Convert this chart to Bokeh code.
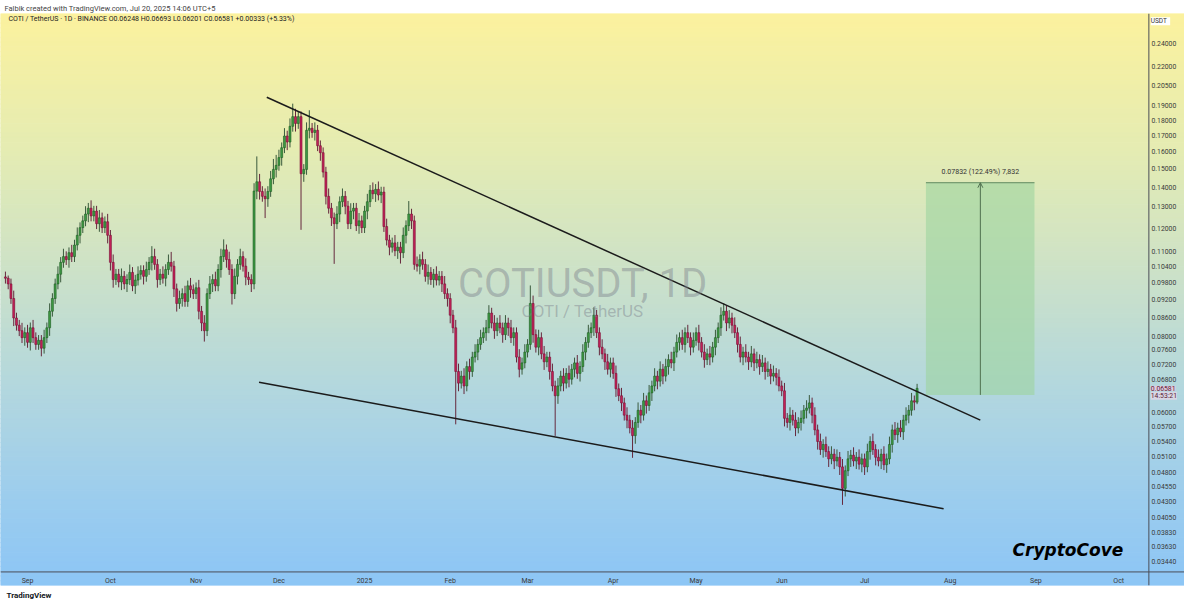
import numpy as np
import pandas as pd
from bokeh.plotting import figure
from bokeh.models import (Range1d, FixedTicker, CustomJSTickFormatter, Span, Label,
                          Title, Arrow, OpenHead, ColumnDataSource)
from bokeh.embed import file_html
from bokeh.resources import INLINE

# ---------------- data (COTI/USDT daily) ----------------
first_date = "2024-08-24"
first_open = 0.1000

close_aug = [0.0995, 0.0974, 0.0922, 0.0857, 0.0834, 0.0817, 0.0796, 0.0811]
close_sep = [0.0782, 0.0826, 0.0796, 0.0776, 0.0788, 0.0765, 0.0796, 0.0826, 0.0879, 0.0922,
             0.0974, 0.1010, 0.1056, 0.1079, 0.1067, 0.1095, 0.1079, 0.1127, 0.1169, 0.1203,
             0.1234, 0.1266, 0.1294, 0.1257, 0.1280, 0.1221, 0.1248, 0.1203, 0.1230, 0.1169]
close_oct = [0.1056, 0.0990, 0.1010, 0.0981, 0.1002, 0.0974, 0.0990, 0.1017, 0.0967, 0.0988,
             0.1010, 0.1024, 0.1002, 0.1028, 0.1056, 0.1079, 0.1048, 0.0990, 0.1010, 0.0995,
             0.1028, 0.1056, 0.1041, 0.0956, 0.0905, 0.0922, 0.0939, 0.0912, 0.0967, 0.0953,
             0.0939]
close_nov = [0.0960, 0.0879, 0.0841, 0.0817, 0.0939, 0.0974, 0.0990, 0.0967, 0.1028, 0.1079,
             0.1107, 0.1067, 0.1028, 0.0939, 0.1002, 0.1048, 0.1079, 0.1041, 0.0999, 0.0990,
             0.0974, 0.1380, 0.1429, 0.1378, 0.1353, 0.1341, 0.1378, 0.1445, 0.1497, 0.1520]
close_dec = [0.1565, 0.1624, 0.1697, 0.1659, 0.1760, 0.1825, 0.1779, 0.1825, 0.1473, 0.1497,
             0.1734, 0.1747, 0.1720, 0.1734, 0.1636, 0.1594, 0.1482, 0.1353, 0.1294, 0.1248,
             0.1221, 0.1266, 0.1326, 0.1353, 0.1304, 0.1221, 0.1280, 0.1294, 0.1212, 0.1234,
             0.1203]
close_jan = [0.1280, 0.1326, 0.1384, 0.1366, 0.1389, 0.1360, 0.1375, 0.1208, 0.1148, 0.1118,
             0.1136, 0.1103, 0.1118, 0.1095, 0.1169, 0.1212, 0.1266, 0.1234, 0.1048, 0.1041,
             0.1067, 0.1048, 0.1002, 0.1017, 0.0990, 0.1010, 0.0988, 0.1002, 0.0974, 0.0939,
             0.0922]
close_feb = [0.0866, 0.0826, 0.0701, 0.0671, 0.0689, 0.0664, 0.0714, 0.0701, 0.0740, 0.0754,
             0.0776, 0.0796, 0.0811, 0.0826, 0.0873, 0.0841, 0.0817, 0.0841, 0.0826, 0.0805,
             0.0841, 0.0826, 0.0796, 0.0811, 0.0740, 0.0707, 0.0724, 0.0754]
close_mar = [0.0776, 0.0905, 0.0805, 0.0768, 0.0796, 0.0749, 0.0727, 0.0740, 0.0701, 0.0664,
             0.0640, 0.0664, 0.0689, 0.0671, 0.0696, 0.0681, 0.0707, 0.0724, 0.0696, 0.0714,
             0.0754, 0.0782, 0.0811, 0.0826, 0.0866, 0.0811, 0.0768, 0.0749, 0.0727, 0.0707,
             0.0724]
close_apr = [0.0696, 0.0657, 0.0640, 0.0623, 0.0595, 0.0584, 0.0567, 0.0551, 0.0579, 0.0606,
             0.0595, 0.0628, 0.0617, 0.0647, 0.0664, 0.0689, 0.0676, 0.0707, 0.0689, 0.0714,
             0.0733, 0.0724, 0.0754, 0.0782, 0.0796, 0.0776, 0.0811, 0.0796, 0.0768, 0.0788]
close_may = [0.0811, 0.0782, 0.0754, 0.0733, 0.0749, 0.0740, 0.0768, 0.0796, 0.0826, 0.0866,
             0.0879, 0.0841, 0.0857, 0.0834, 0.0811, 0.0776, 0.0740, 0.0754, 0.0740, 0.0727,
             0.0749, 0.0724, 0.0733, 0.0714, 0.0724, 0.0701, 0.0707, 0.0689, 0.0696, 0.0686,
             0.0664]
close_jun = [0.0652, 0.0588, 0.0579, 0.0595, 0.0584, 0.0567, 0.0579, 0.0588, 0.0606, 0.0611,
             0.0623, 0.0595, 0.0563, 0.0539, 0.0523, 0.0533, 0.0519, 0.0505, 0.0514, 0.0501,
             0.0508, 0.0490, 0.0452, 0.0483, 0.0505, 0.0512, 0.0501, 0.0508, 0.0495, 0.0505]
close_jul = [0.0490, 0.0519, 0.0539, 0.0523, 0.0508, 0.0501, 0.0514, 0.0494, 0.0505, 0.0533,
             0.0563, 0.0553, 0.0567, 0.0559, 0.0584, 0.0595, 0.0606, 0.0628, 0.06248, 0.06581]

# upper / lower wick sizes, percent beyond the candle body
wick_up_aug = [2, 1, 2, 3, 2, 2, 3, 2]
wick_up_sep = [3, 2, 3, 2, 2, 2, 3, 2, 3, 2, 2, 3, 2, 3, 2, 2, 3, 2, 3, 2,
               2, 3, 2, 3, 2, 2, 3, 2, 2, 3]
wick_up_oct = [2, 3, 2, 2, 3, 2, 2, 3, 2, 2, 3, 2, 2, 3, 2, 4, 3, 2, 2, 3,
               2, 3, 4, 2, 2, 3, 2, 3, 2, 3, 2]
wick_up_nov = [2, 3, 2, 3, 2, 3, 2, 3, 2, 3, 4, 2, 3, 2, 3, 2, 3, 2, 3, 2,
               2, 3, 10, 3, 2, 3, 2, 3, 4, 4]
wick_up_dec = [3, 2, 3, 2, 3, 5, 3, 2, 2, 2, 3, 7, 2, 3, 2, 2, 2, 2, 3, 2,
               2, 3, 2, 3, 2, 2, 3, 2, 2, 3, 2]
wick_up_jan = [2, 3, 2, 3, 2, 3, 2, 2, 3, 2, 2, 3, 2, 2, 3, 2, 5, 2, 2, 3,
               2, 3, 2, 3, 2, 2, 3, 2, 2, 3, 2]
wick_up_feb = [2, 2, 3, 3, 2, 3, 2, 3, 2, 3, 2, 3, 2, 3, 3, 2, 3, 2, 3, 2,
               3, 2, 3, 2, 2, 3, 2, 3]
wick_up_mar = [2, 7, 3, 2, 3, 2, 3, 2, 2, 3, 2, 3, 2, 3, 2, 3, 2, 2, 3, 2,
               3, 2, 3, 2, 3, 2, 2, 3, 2, 3, 2]
wick_up_apr = [2, 3, 2, 3, 2, 3, 2, 3, 2, 3, 2, 3, 2, 3, 2, 3, 2, 3, 2, 3,
               2, 3, 2, 3, 2, 3, 2, 3, 2, 3]
wick_up_may = [2, 3, 2, 3, 2, 3, 2, 3, 2, 3, 3, 2, 3, 2, 3, 2, 3, 2, 3, 2,
               3, 2, 3, 2, 3, 2, 3, 2, 3, 2, 3]
wick_up_jun = [2, 3, 2, 3, 2, 3, 2, 3, 2, 3, 3, 2, 3, 2, 3, 2, 3, 2, 3, 2,
               3, 2, 3, 2, 3, 2, 3, 2, 3, 2]
wick_up_jul = [2, 3, 2, 3, 2, 3, 2, 3, 2, 3, 2, 3, 2, 3, 2, 3, 2, 3, 2, 1.7]

wick_dn_aug = [2, 2, 2, 3, 2, 2, 2, 3]
wick_dn_sep = [2, 3, 2, 2, 2, 3, 2, 2, 3, 2, 2, 2, 3, 2, 2, 3, 2, 2, 2, 3,
               2, 2, 3, 2, 2, 2, 3, 2, 2, 3]
wick_dn_oct = [3, 3, 2, 2, 3, 2, 3, 2, 2, 3, 2, 2, 3, 2, 2, 3, 2, 3, 2, 2,
               3, 2, 2, 3, 3, 2, 3, 2, 2, 3, 2]
wick_dn_nov = [2, 3, 3, 4, 2, 2, 3, 2, 2, 3, 2, 3, 2, 4, 2, 3, 2, 2, 3, 2,
               3, 2, 3, 3, 2, 7, 3, 2, 2, 3]
wick_dn_dec = [2, 3, 2, 3, 2, 2, 3, 2, 19, 3, 2, 3, 2, 3, 2, 3, 2, 3, 2, 3,
               14, 2, 3, 2, 3, 2, 2, 3, 2, 3, 2]
wick_dn_jan = [2, 3, 2, 2, 3, 2, 3, 2, 2, 3, 2, 2, 3, 4, 2, 3, 2, 3, 2, 2,
               3, 2, 2, 3, 2, 3, 2, 2, 3, 2, 3]
wick_dn_feb = [3, 2, 18, 3, 2, 3, 2, 3, 2, 2, 3, 2, 2, 3, 2, 2, 3, 2, 2, 3,
               2, 3, 2, 3, 2, 3, 2, 2]
wick_dn_mar = [2, 2, 3, 2, 3, 2, 3, 2, 3, 2, 14, 3, 2, 3, 2, 3, 2, 3, 2, 3,
               2, 3, 2, 2, 3, 2, 3, 2, 3, 2, 3]
wick_dn_apr = [2, 3, 2, 3, 2, 3, 2, 8, 3, 2, 3, 2, 3, 2, 3, 2, 3, 2, 3, 2,
               3, 2, 3, 2, 3, 2, 3, 2, 3, 2]
wick_dn_may = [2, 3, 2, 3, 2, 3, 2, 3, 2, 3, 2, 3, 2, 3, 2, 3, 2, 3, 2, 3,
               2, 3, 2, 3, 2, 3, 2, 3, 2, 3, 2]
wick_dn_jun = [2, 3, 2, 3, 2, 3, 2, 3, 2, 3, 2, 3, 2, 3, 2, 3, 2, 3, 2, 3,
               2, 3, 6, 3, 2, 3, 2, 3, 2, 3]
wick_dn_jul = [3, 2, 3, 2, 3, 2, 3, 2, 3, 2, 3, 2, 3, 2, 3, 2, 3, 2, 3, 0.75]

# drawings
upper_trend_dates = ["2024-11-26 14:24", "2025-08-11 21:36"]
upper_trend_values = [0.1963, 0.0584]
lower_trend_dates = ["2024-11-23 19:12", "2025-07-29 14:24"]
lower_trend_values = [0.06735, 0.04188]
target_box_dates = ["2025-07-23 04:48", "2025-08-31 12:00"]
target_box_values = [0.0642, 0.1424]
target_arrow_date = "2025-08-11 21:36"
target_text = "0.07832 (122.49%) 7,832"

y_ticks = [0.24, 0.22, 0.205, 0.19, 0.18, 0.17, 0.16, 0.15, 0.14, 0.13, 0.12, 0.11,
           0.104, 0.098, 0.092, 0.086, 0.08, 0.076, 0.072, 0.068, 0.06, 0.057, 0.054,
           0.051, 0.048, 0.0455, 0.043, 0.0405, 0.0383, 0.0363, 0.0344]
x_tick_dates = ["2024-09-01", "2024-10-01", "2024-11-01", "2024-12-01", "2025-01-01",
                "2025-02-01", "2025-03-01", "2025-04-01", "2025-05-01", "2025-06-01",
                "2025-07-01", "2025-08-01", "2025-09-01", "2025-10-01"]
x_tick_labels = ["Sep", "Oct", "Nov", "Dec", "2025", "Feb", "Mar", "Apr", "May", "Jun",
                 "Jul", "Aug", "Sep", "Oct"]

# ---------------- assemble ----------------
DAY = 86400000.0
def ms(s):
    return pd.Timestamp(s).value / 1e6

closes = (close_aug + close_sep + close_oct + close_nov + close_dec + close_jan +
          close_feb + close_mar + close_apr + close_may + close_jun + close_jul)
wup = (wick_up_aug + wick_up_sep + wick_up_oct + wick_up_nov + wick_up_dec + wick_up_jan +
       wick_up_feb + wick_up_mar + wick_up_apr + wick_up_may + wick_up_jun + wick_up_jul)
wdn = (wick_dn_aug + wick_dn_sep + wick_dn_oct + wick_dn_nov + wick_dn_dec + wick_dn_jan +
       wick_dn_feb + wick_dn_mar + wick_dn_apr + wick_dn_may + wick_dn_jun + wick_dn_jul)
n = len(closes)
opens = [first_open] + closes[:-1]
highs = [max(o, c) * (1 + u / 100.0) for o, c, u in zip(opens, closes, wup)]
lows = [min(o, c) * (1 - d / 100.0) for o, c, d in zip(opens, closes, wdn)]
x0 = ms(first_date)
xs = [x0 + i * DAY for i in range(n)]
up = [c >= o for o, c in zip(opens, closes)]

src = ColumnDataSource(dict(
    x=xs, o=opens, c=closes, h=highs, l=lows,
    top=[max(o, c) for o, c in zip(opens, closes)],
    bottom=[min(o, c) for o, c in zip(opens, closes)],
    fill=["#3f9a44" if u else "#c42158" for u in up],
    line=["#1d5e22" if u else "#7a1035" for u in up],
    wick=["#3a5a3d" if u else "#66283d" for u in up],
))

x_start = x0 - 1.786 * DAY
x_end = x0 + 426.8 * DAY
y_top, y_bot = 0.2688, 0.03139

p = figure(width=1184, height=600, x_axis_type="datetime", y_axis_type="log",
           y_axis_location="right", x_range=Range1d(x_start, x_end),
           y_range=Range1d(y_bot, y_top), output_backend="svg", toolbar_location=None)
p.min_border_left = 0
p.min_border_right = 0
p.min_border_top = 0
p.min_border_bottom = 0
p.border_fill_color = "white"
p.outline_line_color = None
p.grid.visible = False

p.title.text = "Falbik created with TradingView.com, Jul 20, 2025 14:06 UTC+5"
p.title.align = "left"
p.title.text_font = "Roboto"
p.title.text_font_size = "7.5px"
p.title.text_font_style = "normal"
p.title.text_color = "#444444"
p.title.offset = 4
p.title.standoff = 2

p.add_layout(Title(text="TradingView", align="left", text_font="Roboto",
                   text_font_size="8px", text_font_style="bold", text_color="#131722",
                   offset=6, standoff=2), "below")

# background gradient (style only)
N = 120
edges = np.exp(np.linspace(np.log(y_top), np.log(y_bot), N + 1))
frac = (np.arange(N) + 0.5) / N
stop_f = [0.0, 0.25, 0.45, 0.65, 0.85, 1.0]
stop_c = np.array([[252, 242, 158], [228, 236, 180], [205, 226, 200],
                   [180, 216, 222], [156, 205, 238], [141, 198, 246]], dtype=float)
cols = []
for f in frac:
    r, g, b = (np.interp(f, stop_f, stop_c[:, k]) for k in range(3))
    cols.append("#%02x%02x%02x" % (int(r), int(g), int(b)))
p.quad(left=[x_start] * N, right=[x_end] * N, top=list(edges[:-1]), bottom=list(edges[1:]),
       fill_color=cols, line_color=cols, line_width=1, level="image")

# watermark
mid_x = x0 + 208.9 * DAY
p.add_layout(Label(x=mid_x, y=0.0974, text="COTIUSDT, 1D", text_align="center",
                   text_baseline="middle", text_font="Roboto", text_font_size="40px",
                   text_color="#7d828c", text_alpha=0.45))
p.add_layout(Label(x=mid_x, y=0.0879, text="COTI / TetherUS", text_align="center",
                   text_baseline="middle", text_font="Roboto", text_font_size="17px",
                   text_color="#7d828c", text_alpha=0.45))

# target box
bx0, bx1 = ms(target_box_dates[0]), ms(target_box_dates[1])
p.quad(left=[bx0], right=[bx1], bottom=[target_box_values[0]], top=[target_box_values[1]],
       fill_color="#9dd39f", fill_alpha=0.6, line_color=None)
p.segment(x0=[bx0], x1=[bx1], y0=[target_box_values[1]], y1=[target_box_values[1]],
          line_color="#5f8a5f", line_width=1)
ax = ms(target_arrow_date)
p.add_layout(Arrow(end=OpenHead(size=5, line_color="#4f6f4f", line_width=1),
                   x_start=ax, y_start=target_box_values[0], x_end=ax, y_end=target_box_values[1],
                   line_color="#4f6f4f", line_width=1))
p.add_layout(Label(x=ax, y=target_box_values[1], y_offset=7, text=target_text,
                   text_align="center", text_baseline="bottom", text_font="Roboto",
                   text_font_size="7px", text_color="#333333"))

# candles
p.segment(x0="x", y0="l", x1="x", y1="h", line_color="wick", line_width=1, source=src)
p.vbar(x="x", width=0.72 * DAY, top="top", bottom="bottom", fill_color="fill",
       line_color="line", line_width=0.6, source=src)

# trend lines
p.line(x=[ms(d) for d in upper_trend_dates], y=upper_trend_values, line_color="#1b1b1b", line_width=1.5)
p.line(x=[ms(d) for d in lower_trend_dates], y=lower_trend_values, line_color="#1b1b1b", line_width=1.5)

# header line
p.add_layout(Label(x=x0 + 1.07 * DAY, y=0.2629, text_baseline="middle", text_font="Roboto",
                   text_font_size="7px", text_color="#222222",
                   text="COTI / TetherUS · 1D · BINANCE   O0.06248  H0.06693  L0.06201  C0.06581  +0.00333 (+5.33%)"))

# price-scale separators
p.add_layout(Span(location=x0 + 413.9 * DAY, dimension="height", line_color="#4a4d57", line_width=1))
p.add_layout(Span(location=0.03303, dimension="width", line_color="#4a4d57", line_width=1))

# axes
ya = p.yaxis[0]
ya.ticker = FixedTicker(ticks=y_ticks, minor_ticks=[])
ya.formatter = CustomJSTickFormatter(code="return tick.toFixed(5);")
ya.major_tick_out = 0
ya.major_tick_in = 0
ya.major_label_standoff = -33
ya.axis_line_color = None
ya.major_tick_line_color = None
ya.minor_tick_line_color = None
ya.major_label_text_font = "Roboto"
ya.major_label_text_font_size = "6.8px"
ya.major_label_text_color = "#3a3a3a"

xt = [ms(d) for d in x_tick_dates]
xa = p.xaxis[0]
xa.ticker = FixedTicker(ticks=xt, minor_ticks=[])
xa.formatter = CustomJSTickFormatter(args=dict(tick_vals=xt, tick_names=x_tick_labels),
                                     code="const i = tick_vals.indexOf(tick); return i >= 0 ? tick_names[i] : '';")
xa.major_tick_out = 0
xa.major_tick_in = 0
xa.major_label_standoff = -9
xa.axis_line_color = None
xa.major_tick_line_color = None
xa.minor_tick_line_color = None
xa.major_label_text_font = "Roboto"
xa.major_label_text_font_size = "7px"
xa.major_label_text_color = "#3a3a3a"

# axis badges
badge_x = x0 + 414.6 * DAY
p.add_layout(Label(x=badge_x, y=0.2610, text=" USDT ", text_baseline="middle", text_font="Roboto",
                   text_font_size="6.5px", text_color="#333333", background_fill_color="white"))
p.add_layout(Label(x=badge_x, y=0.06581, text="0.06581", text_baseline="middle", text_font="Roboto",
                   text_font_size="6.8px", text_color="#5a1a33", background_fill_color="#e2cbe0"))
p.add_layout(Label(x=badge_x, y=0.0640, text="14:53:21", text_baseline="middle", text_font="Roboto",
                   text_font_size="6.8px", text_color="#5a1a33", background_fill_color="#d8d6e4"))

# signature
p.add_layout(Label(x=x0 + 384.6 * DAY, y=0.0359, text="CryptoCove", text_align="center",
                   text_baseline="middle", text_font="DejaVu Sans", text_font_size="17px",
                   text_font_style="bold italic", text_color="#000000"))

open("out.html", "w").write(file_html(p, INLINE))
